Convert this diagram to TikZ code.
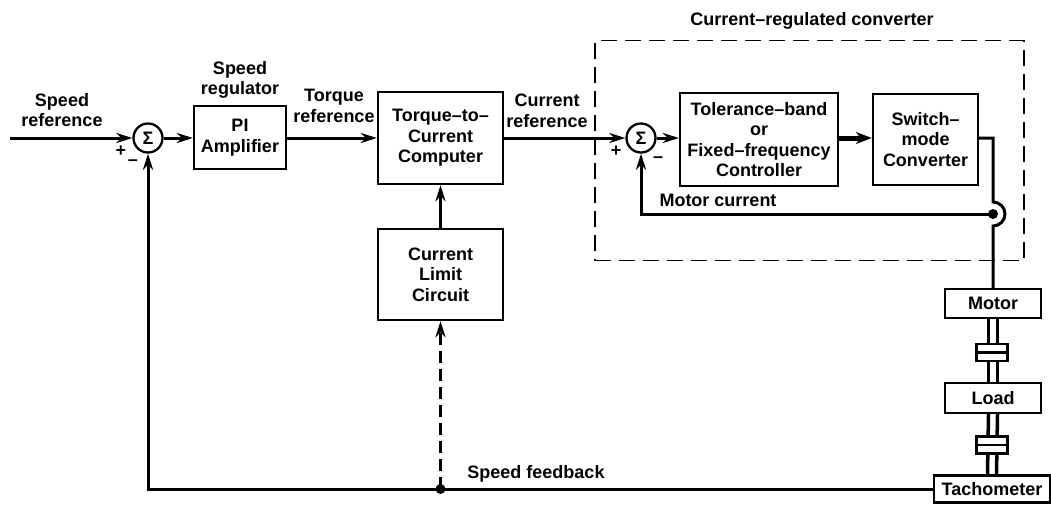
\documentclass[tikz,border=0pt]{standalone}
\usepackage{fontspec}
\setmainfont{Liberation Sans}
\usetikzlibrary{arrows.meta,calc}
\begin{document}
\begin{tikzpicture}[x=1pt,y=-1pt,
  txt/.style={font=\fontsize{18}{20.5}\selectfont\bfseries, align=center, inner sep=0pt},
  blk/.style={txt, draw, line width=2.3pt, inner sep=0pt},
  sumnode/.style={txt, draw, circle, line width=2.3pt, minimum size=29pt},
  conn/.style={line width=3pt},
  arr/.style={conn, -{Stealth[length=16pt,width=10pt,inset=5pt]}},
  shaft/.style={line width=3.5pt},
  coup/.style={draw, fill=white, line width=2.2pt, minimum width=31pt, minimum height=17pt, inner sep=0pt}
]
\useasboundingbox (0,0) rectangle (1051,507);

% title and dashed frame
\node[draw, line width=1.8pt, dash pattern=on 16pt off 8pt, minimum width=429pt, minimum height=220pt, inner sep=0pt] (crc) at (809.5,150.5) {};
\node[txt] (crctitle) at (812,21) {Current–regulated converter};

% summing junctions
\node[sumnode] (s1) at (148,138) {Σ};
\node[sumnode] (s2) at (641,138) {Σ};

% blocks
\node[blk, minimum width=92pt, minimum height=63pt] (pi) at (240,137.5) {PI\\Amplifier};
\node[blk, minimum width=125pt, minimum height=92pt] (ttc) at (440.5,138) {Torque–to–\\Current\\Computer};
\node[blk, minimum width=125pt, minimum height=91pt] (cl) at (440.5,274.5) {Current\\Limit\\Circuit};
\node[blk, minimum width=158pt, minimum height=93pt] (tol) at (759,139.5) {Tolerance–band\\or\\Fixed–frequency\\Controller};
\node[blk, minimum width=105pt, minimum height=91pt] (sw) at (925.5,139.5) {Switch–\\mode\\Converter};
\node[blk, minimum width=96pt, minimum height=29pt] (motor) at (993,303.5) {Motor};
\node[blk, minimum width=96pt, minimum height=30pt] (load) at (993,398) {Load};
\node[blk, minimum width=116pt, minimum height=27pt] (tacho) at (992,489) {Tachometer};

% labels
\node[txt] (lspref) at (62,110) {Speed\\reference};
\node[txt] (lspreg) at (240,80) {Speed\\regulator};
\node[txt] (ltqref) at (334,106) {Torque\\reference};
\node[txt] (lcuref) at (547,111) {Current\\reference};
\node[txt] (lmc) at (718,200) {Motor current};
\node[txt] (lsf) at (536,474) {Speed feedback};
\node[txt] (p1) at (121,151) {+};
\node[txt] (m1) at (133,163) {–};
\node[txt] (p2) at (616,151) {+};
\node[txt] (m2) at (658,160) {–};

% forward path
\coordinate (in) at (10,138);
\draw[arr] (in) -- (s1);
\draw[arr] (s1) -- (s1 -| pi.west);
\draw[arr] (pi.east |- s1) -- (ttc.west |- s1);
\draw[arr] (ttc) -- (s2);
\draw[arr] (s2) -- (s2 -| tol.west);
\draw[line width=5pt, -{Stealth[length=16pt,width=12pt,inset=5pt]}] (tol.east |- s2) -- (sw.west |- s2);
\draw[arr] (cl.north) -- (ttc.south);

% current sensing path
\coordinate (tap) at (993,214);
\draw[conn] (sw.east |- s2) -| ([yshift=12pt]tap) arc[start angle=90, end angle=-90, radius=12pt] -- (motor.north);
\fill (tap) circle (5pt);
\draw[arr] (tap) -| (s2.south);

% shafts and couplings
\draw[shaft] ([xshift=-4.5pt]motor.south) -- ([xshift=-4.5pt]load.north);
\draw[shaft] ([xshift=4.5pt]motor.south) -- ([xshift=4.5pt]load.north);
\draw[shaft] ([xshift=-4.5pt]load.south) -- ([xshift=-4.5pt]tacho.north);
\draw[shaft] ([xshift=4.5pt]load.south) -- ([xshift=4.5pt]tacho.north);
\node[coup] (c1) at (992,352.5) {};
\draw[line width=2.2pt] (c1.west) -- (c1.east);
\node[coup] (c2) at (992,445) {};
\draw[line width=2.2pt] (c2.west) -- (c2.east);

% speed feedback
\draw[arr] (tacho.west) -| (s1.south);
\coordinate (fb) at (cl.south |- tacho.west);
\fill (fb) circle (5pt);
\draw[arr, dash pattern=on 12pt off 6pt] (fb) -- (cl.south);
\end{tikzpicture}
\end{document}
